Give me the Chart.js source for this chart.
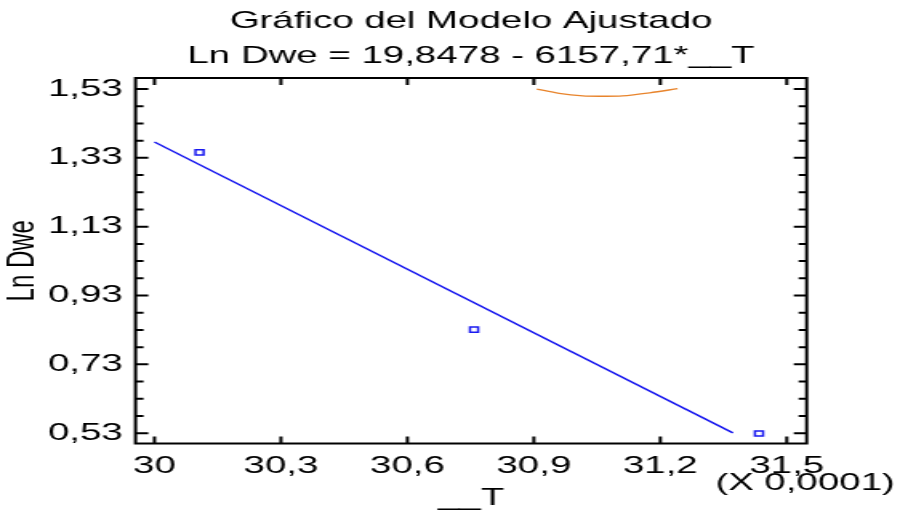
<!DOCTYPE html>
<html lang="es">
<head>
<meta charset="UTF-8">
<title>Gráfico del Modelo Ajustado</title>
<script src="https://cdn.jsdelivr.net/npm/chart.js"></script>
<style>
html,body{margin:0;padding:0;background:#fff;overflow:hidden;}
/* the original picture is stretched sideways, so draw narrow and widen it */
.wrap{width:562px;height:510px;transform:scale(1.6014,1);transform-origin:0 0;}
</style>
</head>
<body>
<div class="wrap"><canvas id="fit"></canvas></div>

<script>
Chart.defaults.animation=false;
Chart.defaults.font.family='"Liberation Sans", Arial, Helvetica, sans-serif';
Chart.defaults.color="#000";

/* ── data (T in units of 0.0001) ─────────────────────────────── */
const obsT   =[30.107,30.758,31.434];
const obsLn  =[1.346,0.831,0.529];
const fitT   =[30.0,31.372];
const fitLn  =[1.376,0.531];
const bandT  =[30.907,30.96,31.016,31.06,31.11,31.175,31.241];
const bandLn =[1.530,1.5175,1.510,1.509,1.510,1.519,1.531];
const xTicks =[30,30.3,30.6,30.9,31.2,31.5];
const yTicks =[0.53,0.73,0.93,1.13,1.33,1.53];

const TITLE1="Gráfico del Modelo Ajustado";
const TITLE2="Ln Dwe = 19,8478 - 6157,71*__T";
const XNOTE ="(X 0,0001)";

const pts=(xs,ys)=>xs.map((x,i)=>({x,y:ys[i]}));
const FONT='24px "Liberation Sans", Arial, sans-serif';

/* frame, inward ticks and the loose texts */
const frame={
  id:"frame",
  afterDraw(c){
    const {ctx,chartArea:a,scales:{x,y}}=c;
    ctx.save();
    ctx.strokeStyle="#000";ctx.lineWidth=2;
    ctx.strokeRect(a.left,a.top,a.right-a.left,a.bottom-a.top);
    ctx.beginPath();
    yTicks.forEach((v,i)=>{
      const p=y.getPixelForValue(v);
      ctx.moveTo(a.left,p);ctx.lineTo(a.left+8,p);
      ctx.moveTo(a.right,p);ctx.lineTo(a.right-8,p);
      if(i<yTicks.length-1){
        [0.05,0.10,0.15].forEach(d=>{
          const q=y.getPixelForValue(v+d);
          ctx.moveTo(a.left,q);ctx.lineTo(a.left+5,q);
          ctx.moveTo(a.right,q);ctx.lineTo(a.right-5,q);
        });
      }
    });
    xTicks.forEach(v=>{
      const p=x.getPixelForValue(v);
      ctx.moveTo(p,a.top);ctx.lineTo(p,a.top+7);
      ctx.moveTo(p,a.bottom);ctx.lineTo(p,a.bottom-7);
    });
    ctx.stroke();

    ctx.fillStyle="#000";ctx.font=FONT;
    ctx.textAlign="center";ctx.textBaseline="alphabetic";
    const cx=(a.left+a.right)/2;
    ctx.fillText(TITLE1,cx,28);
    ctx.fillText(TITLE2,cx,63);
    ctx.fillText(XNOTE,a.right-1,490);
    ctx.restore();
  }
};

new Chart(document.getElementById("fit"),{
  type:"scatter",
  data:{datasets:[
    {type:"line",data:pts(fitT,fitLn),borderColor:"#1010ee",borderWidth:1.4,
     pointRadius:0,fill:false},
    {type:"line",data:pts(bandT,bandLn),borderColor:"#e8842c",borderWidth:1.3,
     pointRadius:0,tension:0.3,fill:false},
    {data:pts(obsT,obsLn),pointStyle:"rect",pointRadius:3.6,
     borderColor:"#1a1af0",borderWidth:1.5,backgroundColor:"rgba(0,0,0,0)"}
  ]},
  options:{
    responsive:true,maintainAspectRatio:false,
    layout:{padding:{top:78,right:58.3,left:0,bottom:0}},
    plugins:{legend:{display:false},tooltip:{enabled:false}},
    scales:{
      x:{type:"linear",min:29.955,max:31.547,
         grid:{display:false,drawTicks:false},border:{display:false},
         afterBuildTicks:s=>{s.ticks=xTicks.map(v=>({value:v}));},
         afterFit:s=>{s.height=66.5;},
         ticks:{autoSkip:false,maxRotation:0,padding:8,font:{size:24},
                callback:v=>String(Math.round(v*10)/10).replace(".",",")},
         title:{display:true,text:"__T",font:{size:24,lineHeight:1},padding:0}},
      y:{type:"linear",min:0.50,max:1.562,
         grid:{display:false,drawTicks:false},border:{display:false},
         afterBuildTicks:s=>{s.ticks=yTicks.map(v=>({value:v}));},
         afterFit:s=>{s.width=84.6;},
         ticks:{autoSkip:false,padding:8,font:{size:24},
                callback:v=>v.toFixed(2).replace(".",",")},
         title:{display:true,text:"Ln Dwe",font:{size:24},padding:0}}
    }
  },
  plugins:[frame]
});
</script>
</body>
</html>
